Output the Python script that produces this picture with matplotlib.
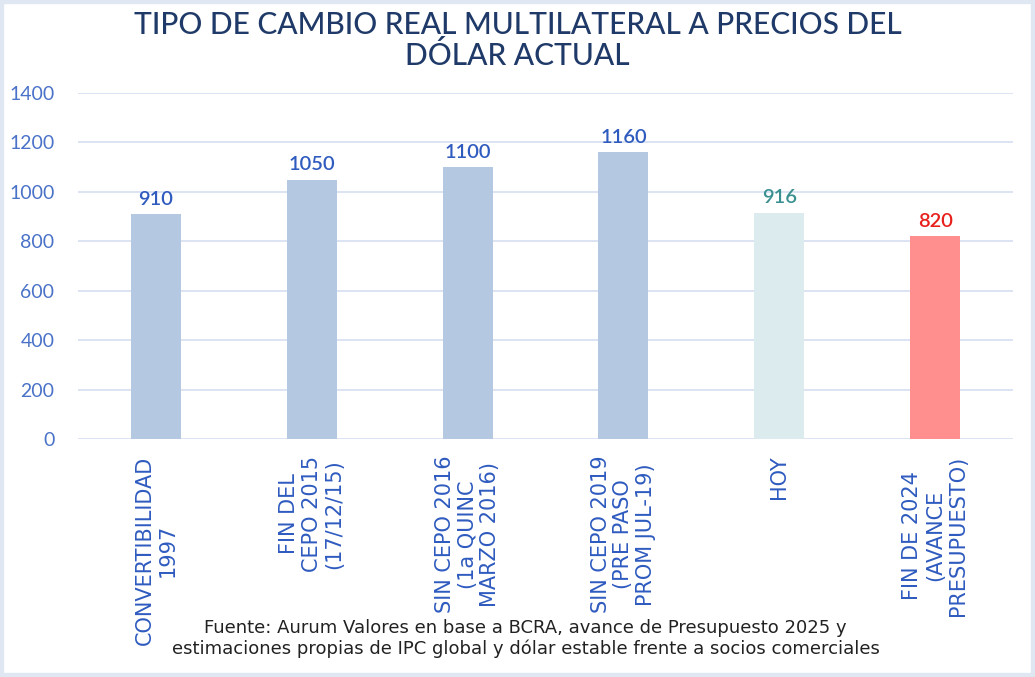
import matplotlib
matplotlib.use("Agg")
import matplotlib.pyplot as plt
from matplotlib.patches import Rectangle

plt.rcParams['font.family'] = ['Lato', 'DejaVu Sans']

categories = ["CONVERTIBILIDAD\n1997", "FIN DEL\nCEPO 2015\n(17/12/15)",
              "SIN CEPO 2016\n(1a QUINC\nMARZO 2016)", "SIN CEPO 2019\n(PRE PASO\nPROM JUL-19)",
              "HOY", "FIN DE 2024\n(AVANCE\nPRESUPUESTO)"]
values = [910, 1050, 1100, 1160, 916, 820]
bar_colors = ["#b4c8e1", "#b4c8e1", "#b4c8e1", "#b4c8e1", "#dcebee", "#ff8f8f"]
label_colors = ["#2f5bbf", "#2f5bbf", "#2f5bbf", "#2f5bbf", "#3a9090", "#e8201c"]
yticks = [0, 200, 400, 600, 800, 1000, 1200, 1400]
title = "TIPO DE CAMBIO REAL MULTILATERAL A PRECIOS DEL\nDÓLAR ACTUAL"
source = ("Fuente: Aurum Valores en base a BCRA, avance de Presupuesto 2025 y\n"
          "estimaciones propias de IPC global y dólar estable frente a socios comerciales")

fig = plt.figure(figsize=(10.35, 6.77), dpi=100)
fig.patch.set_facecolor("white")
fig.patches.append(Rectangle((0, 0), 1, 1, transform=fig.transFigure, fill=False,
                             edgecolor="#dfe7f3", linewidth=6, zorder=10))

ax = fig.add_axes([78 / 1035, 0.3516, 935 / 1035, 0.511])
x = list(range(len(values)))
ax.bar(x, values, width=0.32, color=bar_colors, zorder=3)
ax.set_xlim(-0.5, len(values) - 0.5)
ax.set_ylim(0, 1400)
ax.set_yticks(yticks)
ax.set_yticklabels([str(t) for t in yticks], color="#4a72c8", fontsize=14)
ax.tick_params(axis='y', length=0, pad=17)
ax.tick_params(axis='x', length=0, pad=12)
ax.set_xticks(x)
ax.set_xticklabels(categories, rotation=90, fontsize=15, color="#2f5bbf",
                   va="top", ha="center", multialignment="center", linespacing=1.18,
                   family="DejaVu Sans")
ax.grid(axis='y', color="#d9e2f3", linewidth=1.3, zorder=0)
for s in ax.spines.values():
    s.set_visible(False)

for xi, v, c in zip(x, values, label_colors):
    ax.text(xi, v + 25, str(v), ha="center", va="bottom", fontsize=14.5,
            color=c, fontweight="semibold")

fig.text(0.5, 0.984, title, ha="center", va="top", fontsize=21.5,
         color="#1f3a68", linespacing=1.08, fontweight="medium")
fig.text(0.508, 0.028, source, ha="center", va="bottom", fontsize=13,
         color="#222222", linespacing=1.2, family="DejaVu Sans")

fig.savefig("out.png", dpi=100, facecolor="white")
